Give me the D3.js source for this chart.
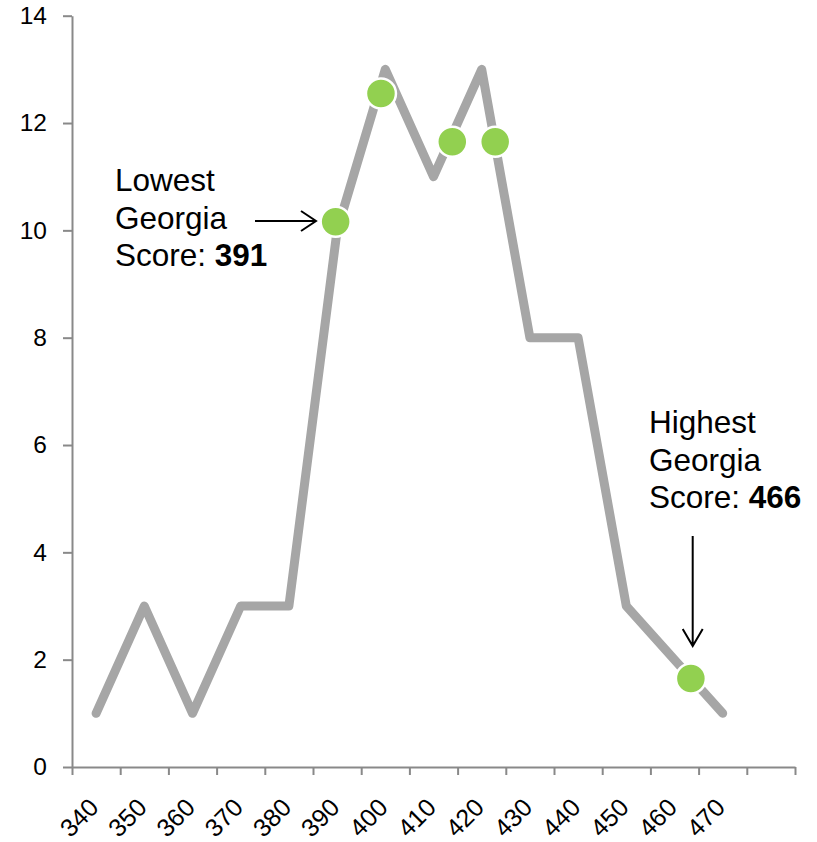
<!DOCTYPE html>
<html>
<head>
<meta charset="utf-8">
<script src="https://cdn.jsdelivr.net/npm/d3@7"></script>
<style>
  body { margin: 0; background: #fff; }
  text { font-family: "Liberation Sans", Arial, sans-serif; }
</style>
</head>
<body>
<svg width="817" height="842"></svg>
<script>
// distribution of scores (count per 10-point bin)
const scoreBins = [340, 350, 360, 370, 380, 390, 400, 410, 420, 430, 440, 450, 460, 470];
const binCounts = [1, 3, 1, 3, 3, 10, 13, 11, 13, 8, 8, 3, 2, 1];
// Georgia scores, placed on the same axes
const georgiaX = [389.7, 399.1, 413.9, 422.8, 463.4];
const georgiaY = [10.16, 12.55, 11.65, 11.65, 1.65];
const yTicks = [0, 2, 4, 6, 8, 10, 12, 14];
const xEdges = [335, 345, 355, 365, 375, 385, 395, 405, 415, 425, 435, 445, 455, 465, 475, 485];

const svg = d3.select('svg');
const plotLeft = 72, plotRight = 795, plotTop = 15.7, plotBottom = 767;

const x = d3.scaleLinear().domain([335, 485]).range([plotLeft, plotRight]);
const y = d3.scaleLinear().domain([0, 14]).range([plotBottom, plotTop]);
const axisColor = '#898989';

// y axis
const yAxis = svg.append('g')
  .attr('transform', `translate(${plotLeft},0)`)
  .call(d3.axisLeft(y).tickValues(yTicks).tickSize(9).tickPadding(16).tickSizeOuter(0));
yAxis.select('.domain').attr('stroke', axisColor).attr('stroke-width', 2);
yAxis.selectAll('.tick line').attr('stroke', axisColor).attr('stroke-width', 2);
yAxis.selectAll('.tick text').attr('font-size', 24.5).attr('fill', '#000')
  .attr('font-family', '"Liberation Sans", Arial, sans-serif');

// x axis: tick marks on bin edges
const xAxis = svg.append('g')
  .attr('transform', `translate(0,${plotBottom})`)
  .call(d3.axisBottom(x).tickValues(xEdges).tickSize(8).tickFormat('').tickSizeOuter(0));
xAxis.select('.domain').attr('stroke', axisColor).attr('stroke-width', 2);
xAxis.selectAll('.tick line').attr('stroke', axisColor).attr('stroke-width', 2);

// rotated bin labels
svg.append('g').selectAll('text')
  .data(scoreBins)
  .join('text')
  .attr('transform', d => `translate(${x(d) + 4},${plotBottom + 42}) rotate(-45)`)
  .attr('text-anchor', 'end')
  .attr('font-size', 25)
  .text(d => d);

// distribution line
const line = d3.line()
  .x((d, i) => x(scoreBins[i]))
  .y(d => y(d));
svg.append('path')
  .datum(binCounts)
  .attr('d', line)
  .attr('fill', 'none')
  .attr('stroke', '#a6a6a6')
  .attr('stroke-width', 9)
  .attr('stroke-linejoin', 'round')
  .attr('stroke-linecap', 'round');

// Georgia dots
svg.append('g').selectAll('circle')
  .data(georgiaX)
  .join('circle')
  .attr('cx', d => x(d))
  .attr('cy', (d, i) => y(georgiaY[i]))
  .attr('r', 15)
  .attr('fill', '#92d050')
  .attr('stroke', '#fff')
  .attr('stroke-width', 2.5);

// annotations
function label(x0, y0, word, score) {
  const t = svg.append('text').attr('x', x0).attr('y', y0).attr('font-size', 31.5);
  t.append('tspan').attr('x', x0).text(word);
  t.append('tspan').attr('x', x0).attr('dy', 37.5).text('Georgia');
  t.append('tspan').attr('x', x0).attr('dy', 37.5).text('Score: ');
  t.append('tspan').attr('font-weight', 'bold').text(score);
}
label(115, 191, 'Lowest', '391');
label(649, 433, 'Highest', '466');

const arrows = svg.append('g').attr('stroke', '#000').attr('stroke-width', 2).attr('fill', 'none');
// pointing right at lowest dot
arrows.append('path').attr('d', 'M255,221 H316 M301,211 L316,221 L301,231');
// pointing down at highest dot
arrows.append('path').attr('d', 'M692.7,536 V646 M682.7,629 L692.7,646 L702.7,629');
</script>
</body>
</html>
